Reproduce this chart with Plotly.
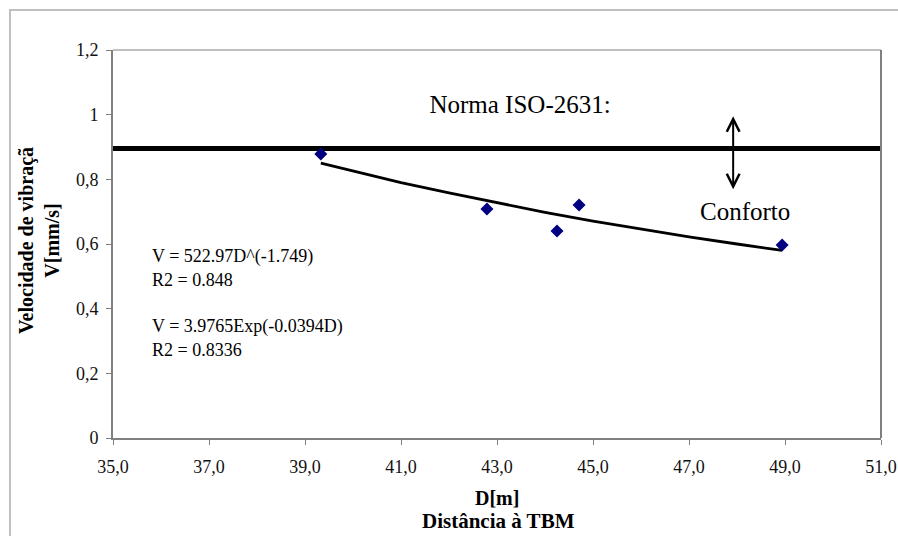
import plotly.graph_objects as go

# measured data
dist_m = [39.33, 42.79, 44.25, 44.71, 48.94]
vel_mm_s = [0.878, 0.708, 0.640, 0.721, 0.597]

# power trendline
trend_x = [39.33, 40.0, 41.0, 42.0, 43.0, 44.0, 45.0, 46.0, 47.0, 48.0, 48.94]
trend_y = [0.850, 0.825, 0.790, 0.758, 0.727, 0.698, 0.671, 0.646, 0.622, 0.600, 0.580]

# ISO-2631 limit line
iso_x = [35.0, 51.0]
iso_y = [0.895, 0.895]

x_ticks = [35, 37, 39, 41, 43, 45, 47, 49, 51]
y_ticks = [0, 0.2, 0.4, 0.6, 0.8, 1.0, 1.2]

FONT = "Liberation Serif, Times New Roman, serif"

W, H = 898, 536
L, R, T, B = 113, 17, 50, 98
pw, ph = W - L - R, H - T - B


def px(x):
    return (x - L) / pw


def py(y):
    return (H - B - y) / ph


fig = go.Figure()
fig.add_trace(go.Scatter(x=iso_x, y=iso_y, mode="lines",
                         line=dict(color="black", width=5), hoverinfo="skip"))
fig.add_trace(go.Scatter(x=trend_x, y=trend_y, mode="lines",
                         line=dict(color="black", width=2.8), hoverinfo="skip"))
fig.add_trace(go.Scatter(x=dist_m, y=vel_mm_s, mode="markers",
                         marker=dict(symbol="diamond", size=10, color="#000080")))
# label of the limit (as text trace so the white box below can trim it like the original)
fig.add_trace(go.Scatter(x=[43.48], y=[1.024], mode="text", text=["Norma ISO-2631:"],
                         textposition="middle center", cliponaxis=False, hoverinfo="skip",
                         textfont=dict(family=FONT, size=25, color="black")))

annots = [
    dict(text="Conforto", x=px(745), y=py(212), font=dict(size=25)),
    dict(text="V = 522.97D^(-1.749)", x=px(150), y=py(256), xanchor="left", font=dict(size=18)),
    dict(text="R2 = 0.848", x=px(150), y=py(280), xanchor="left", font=dict(size=18)),
    dict(text="V = 3.9765Exp(-0.0394D)", x=px(150), y=py(326), xanchor="left", font=dict(size=18)),
    dict(text="R2 = 0.8336", x=px(150), y=py(350), xanchor="left", font=dict(size=18)),
    dict(text="<b>D[m]</b>", x=px(497), y=py(498), font=dict(size=20)),
    dict(text="<b>Distância à TBM</b>", x=px(498), y=py(521), font=dict(size=21)),
    dict(text="<b>Velocidade de vibraçã<br>V[mm/s]</b>", x=px(39), y=py(241),
         textangle=-90, font=dict(size=20)),
]
for a in annots:
    a.setdefault("xanchor", "center")
    a.update(xref="paper", yref="paper", yanchor="middle", showarrow=False)
    a["font"].update(family=FONT, color="black")
fig.update_layout(annotations=annots)

# double arrow
fig.add_annotation(x=47.92, y=0.995, ax=47.92, ay=0.765, xref="x", yref="y",
                   axref="x", ayref="y", showarrow=True, arrowside="end+start",
                   arrowhead=5, arrowsize=1.25, arrowwidth=2, arrowcolor="black", text="")

shapes = [
    # outer chart border
    dict(type="rect", xref="paper", yref="paper", x0=px(10), y0=py(10), x1=px(905), y1=py(545),
         line=dict(color="#c0c0c0", width=2), layer="below"),
    # plot area top and right border
    dict(type="line", xref="paper", yref="paper", x0=0, x1=1, y0=1, y1=1,
         line=dict(color="#c0c0c0", width=2)),
    dict(type="line", xref="paper", yref="paper", x0=1, x1=1, y0=0, y1=1,
         line=dict(color="#808080", width=2)),
    # white box trimming the bottom of the limit label
    dict(type="rect", xref="paper", yref="paper", x0=px(415), x1=px(625), y0=py(124), y1=py(116),
         line=dict(width=0), fillcolor="white", layer="above"),
]
fig.update_layout(shapes=shapes)

fig.update_layout(
    width=W, height=H,
    margin=dict(l=L, r=R, t=T, b=B, autoexpand=False),
    paper_bgcolor="white", plot_bgcolor="white",
    showlegend=False,
    separators=", ",
    font=dict(family=FONT, size=18, color="#222"),
    xaxis=dict(range=[35, 51], tickvals=x_ticks, tickformat=".1f", automargin=False,
               showgrid=False, zeroline=False, showline=True, linecolor="#808080", linewidth=2,
               ticks="outside", ticklen=5, tickcolor="#808080", tickwidth=1,
               tickfont=dict(family=FONT, size=18, color="#111"), ticklabelstandoff=6),
    yaxis=dict(range=[0, 1.2], tickvals=y_ticks, automargin=False,
               showgrid=False, zeroline=False, showline=True, linecolor="#808080", linewidth=2,
               ticks="outside", ticklen=5, tickcolor="#808080", tickwidth=1,
               tickfont=dict(family=FONT, size=18, color="#111"), ticklabelstandoff=4),
)

fig.write_html("out.html", config={"displayModeBar": False},
               post_script="document.body.style.margin='0';document.body.style.overflow='hidden';")
